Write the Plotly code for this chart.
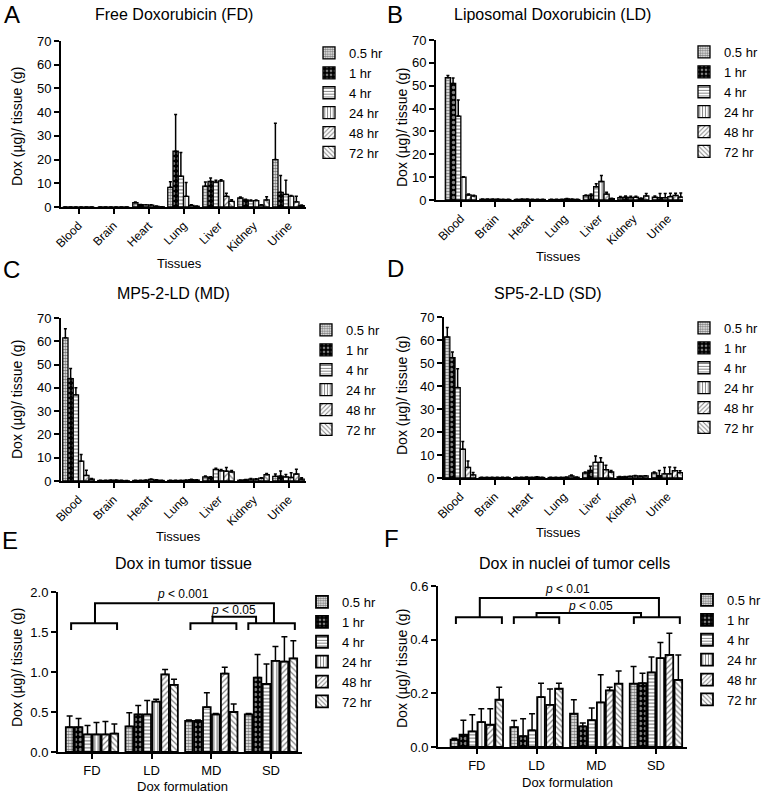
import plotly.graph_objects as go

W, H = 770, 796
FONT = "Liberation Sans, Arial, Helvetica, sans-serif"

tissues = ["Blood", "Brain", "Heart", "Lung", "Liver", "Kidney", "Urine"]
times = ["0.5 hr", "1 hr", "4 hr", "24 hr", "48 hr", "72 hr"]
formulations = ["FD", "LD", "MD", "SD"]

# ---- Panel A: Free Doxorubicin (rows = tissues, columns = time points)
fd_mean = [
    [0, 0, 0, 0, 0, 0],
    [0, 0, 0, 0, 0, 0],
    [1.8, 1.0, 0.9, 0.8, 0.3, 0.1],
    [8.3, 23.5, 13.0, 4.5, 0.7, 0.3],
    [8.8, 10.8, 10.5, 11.0, 4.5, 2.4],
    [3.8, 3.0, 2.6, 2.7, 0.8, 3.0],
    [20.0, 6.2, 5.3, 4.6, 2.2, 0.6],
]
fd_err = [
    [0, 0, 0, 0, 0, 0],
    [0, 0, 0, 0, 0, 0],
    [0.3, 0.1, 0.1, 0.1, 0.1, 0.05],
    [2.3, 15.5, 10.0, 5.8, 0.3, 0.1],
    [1.7, 1.4, 0.8, 0.5, 1.3, 0.7],
    [0.4, 0.3, 0.3, 0.3, 0.2, 1.3],
    [15.3, 7.1, 6.0, 0.3, 2.3, 0.2],
]
# ---- Panel B: Liposomal Doxorubicin
ld_mean = [
    [53.5, 51.0, 36.7, 10.0, 2.2, 1.8],
    [0.3, 0.3, 0.3, 0.3, 0.2, 0.2],
    [0.2, 0.3, 0.3, 0.2, 0.2, 0.2],
    [0.2, 0.2, 0.2, 0.5, 0.3, 0.2],
    [1.9, 2.1, 5.8, 8.1, 2.6, 0.6],
    [1.0, 1.2, 1.0, 1.2, 0.6, 1.8],
    [1.2, 1.0, 1.0, 1.5, 2.0, 1.3],
]
ld_err = [
    [1.0, 2.4, 7.0, 0.2, 0.4, 0.3],
    [0.1, 0.1, 0.1, 0.1, 0.1, 0.1],
    [0.1, 0.1, 0.1, 0.1, 0.1, 0.1],
    [0.1, 0.1, 0.1, 0.2, 0.1, 0.1],
    [0.3, 0.5, 1.3, 2.6, 0.8, 0.2],
    [0.5, 0.5, 0.6, 0.4, 0.3, 1.0],
    [0.5, 1.8, 1.8, 1.5, 0.9, 1.8],
]
# ---- Panel C: MP5-2-LD
md_mean = [
    [61.5, 44.0, 37.0, 8.5, 2.4, 0.8],
    [0.2, 0.2, 0.3, 0.3, 0.2, 0.1],
    [0.2, 0.2, 0.3, 0.7, 0.4, 0.2],
    [0.2, 0.2, 0.2, 0.3, 0.6, 0.4],
    [1.8, 1.5, 5.0, 4.4, 4.2, 3.9],
    [0.3, 0.5, 0.8, 0.8, 1.2, 2.7],
    [2.0, 2.1, 1.8, 1.5, 3.0, 0.8],
]
md_err = [
    [3.9, 4.3, 3.0, 2.9, 2.2, 0.3],
    [0.1, 0.1, 0.1, 0.1, 0.1, 0.1],
    [0.1, 0.1, 0.1, 0.2, 0.1, 0.1],
    [0.1, 0.1, 0.1, 0.1, 0.2, 0.1],
    [0.3, 0.3, 0.5, 0.5, 1.6, 0.6],
    [0.1, 0.1, 0.3, 0.2, 0.2, 0.5],
    [1.0, 2.2, 1.0, 2.0, 2.0, 0.6],
]
# ---- Panel D: SP5-2-LD
sd_mean = [
    [61.3, 52.3, 39.3, 12.5, 4.6, 1.4],
    [0.2, 0.2, 0.2, 0.2, 0.2, 0.2],
    [0.2, 0.2, 0.3, 0.2, 0.4, 0.2],
    [0.2, 0.2, 0.2, 0.3, 0.9, 0.3],
    [2.2, 3.3, 6.8, 6.8, 3.6, 2.6],
    [0.5, 0.5, 0.7, 0.9, 0.8, 0.9],
    [2.2, 1.0, 1.8, 1.8, 3.2, 2.3],
]
sd_err = [
    [4.1, 2.5, 8.2, 3.4, 2.8, 1.0],
    [0.1, 0.1, 0.1, 0.1, 0.1, 0.1],
    [0.1, 0.1, 0.1, 0.1, 0.1, 0.1],
    [0.1, 0.1, 0.1, 0.1, 0.4, 0.1],
    [0.4, 1.8, 2.8, 2.0, 1.9, 0.7],
    [0.1, 0.1, 0.1, 0.2, 0.1, 0.1],
    [0.4, 2.3, 2.8, 3.0, 1.4, 0.8],
]
# ---- Panel E: Dox in tumor tissue (rows = formulations)
tumor_mean = [
    [0.31, 0.31, 0.22, 0.22, 0.22, 0.23],
    [0.32, 0.47, 0.47, 0.63, 0.97, 0.84],
    [0.39, 0.39, 0.56, 0.47, 0.98, 0.50],
    [0.47, 0.93, 0.85, 1.14, 1.13, 1.17],
]
tumor_err = [
    [0.14, 0.11, 0.11, 0.15, 0.16, 0.12],
    [0.17, 0.11, 0.175, 0.03, 0.06, 0.07],
    [0.01, 0.01, 0.18, 0.01, 0.08, 0.10],
    [0.01, 0.29, 0.25, 0.18, 0.31, 0.22],
]
# ---- Panel F: Dox in nuclei of tumor cells
nuclei_mean = [
    [0.027, 0.046, 0.058, 0.093, 0.083, 0.176],
    [0.074, 0.040, 0.062, 0.186, 0.157, 0.217],
    [0.124, 0.077, 0.100, 0.166, 0.211, 0.236],
    [0.236, 0.238, 0.278, 0.331, 0.343, 0.250],
]
nuclei_err = [
    [0.006, 0.054, 0.062, 0.050, 0.060, 0.047],
    [0.025, 0.065, 0.062, 0.052, 0.059, 0.021],
    [0.052, 0.012, 0.045, 0.103, 0.012, 0.047],
    [0.064, 0.037, 0.057, 0.058, 0.081, 0.093],
]

# significance brackets: (x0, x1, y, y_end_of_legs), text (x, y, label)
tumor_brackets = [(0.05, 3.05, 1.86, 1.61), (-0.35, 0.42, 1.61, 1.525),
                  (1.65, 2.42, 1.61, 1.525), (2.62, 3.40, 1.61, 1.525),
                  (2.02, 2.75, 1.69, 1.61)]
tumor_ptext = [(1.52, 1.975, "<i>p</i> &lt; 0.001"), (2.38, 1.775, "<i>p</i> &lt; 0.05")]
nuclei_brackets = [(0.05, 3.05, 0.555, 0.484), (-0.35, 0.42, 0.484, 0.458),
                   (0.62, 1.38, 0.484, 0.458), (2.63, 3.40, 0.484, 0.458),
                   (1.00, 2.75, 0.499, 0.484)]
nuclei_ptext = [(1.52, 0.589, "<i>p</i> &lt; 0.01"), (1.90, 0.525, "<i>p</i> &lt; 0.05")]

# ---- styling
patterns = [
    dict(shape=".", size=3, solidity=0.65, fgcolor="black", bgcolor="white"),
    dict(shape=".", size=5, solidity=0.35, fgcolor="white", bgcolor="black"),
    dict(shape="-", size=3.5, solidity=0.35, fgcolor="black", bgcolor="white"),
    dict(shape="|", size=3.5, solidity=0.35, fgcolor="black", bgcolor="white"),
    dict(shape="/", size=4, solidity=0.3, fgcolor="black", bgcolor="white"),
    dict(shape="\\", size=4, solidity=0.3, fgcolor="black", bgcolor="white"),
]

def px(x):
    return x / W

def py(y):
    return 1 - y / H

panels = [
    dict(cats=tissues, mean=fd_mean, err=fd_err, xd=(61, 306), yd=(41, 207),
         xr=[-0.5, 6.5], yr=[0, 70], dt=10, fmt="d", leg=(309, 38), small=True),
    dict(cats=tissues, mean=ld_mean, err=ld_err, xd=(436, 683), yd=(40, 200),
         xr=[-0.72, 6.44], yr=[0, 70], dt=10, fmt="d", leg=(684, 37), small=True),
    dict(cats=tissues, mean=md_mean, err=md_err, xd=(61, 306), yd=(318, 481),
         xr=[-0.5, 6.5], yr=[0, 70], dt=10, fmt="d", leg=(306, 315), small=True),
    dict(cats=tissues, mean=sd_mean, err=sd_err, xd=(444, 683), yd=(317, 478),
         xr=[-0.47, 6.46], yr=[0, 70], dt=10, fmt="d", leg=(684, 313), small=True),
    dict(cats=formulations, mean=tumor_mean, err=tumor_err, xd=(58, 302), yd=(592, 752),
         xr=[-0.57, 3.52], yr=[0, 2.0], dt=0.5, fmt=".1f", leg=(302, 587), small=False),
    dict(cats=formulations, mean=nuclei_mean, err=nuclei_err, xd=(438, 687), yd=(586, 747),
         xr=[-0.65, 3.52], yr=[0, 0.6], dt=0.2, fmt=".1f", leg=(687, 585), small=False),
]

fig = go.Figure()
layout = dict(
    width=W, height=H, margin=dict(l=0, r=0, t=0, b=0, pad=0, autoexpand=False),
    paper_bgcolor="white", plot_bgcolor="white",
    font=dict(family=FONT, color="black", size=13),
    showlegend=True, barmode="overlay",
)
annotations = []
shapes = []

for p_i, p in enumerate(panels):
    n = p_i + 1
    xa = "x" if n == 1 else f"x{n}"
    ya = "y" if n == 1 else f"y{n}"
    leg = "legend" if n == 1 else f"legend{n}"
    ncat = len(p["cats"])
    if p["small"]:
        w, pitch, start = 0.15, 0.15, -0.45
    else:
        w, pitch, start = 0.128, 0.15, -0.439
    for t_i, t in enumerate(times):
        vals = [p["mean"][c][t_i] for c in range(ncat)]
        errs = [p["err"][c][t_i] for c in range(ncat)]
        fig.add_trace(go.Bar(
            x=p["cats"], y=vals, name=t, xaxis=xa, yaxis=ya, legend=leg,
            width=w, offset=start + t_i * pitch,
            marker=dict(color="white", pattern=patterns[t_i],
                        line=dict(color="black", width=1.3 if p["small"] else 1.8)),
            error_y=dict(type="data", symmetric=False, array=errs,
                         arrayminus=[0] * ncat, color="black",
                         thickness=1.5, width=1.5 if p["small"] else 3),
            showlegend=True,
        ))
    xkey = "xaxis" if n == 1 else f"xaxis{n}"
    ykey = "yaxis" if n == 1 else f"yaxis{n}"
    layout[xkey] = dict(
        domain=[px(p["xd"][0]), px(p["xd"][1])], anchor=ya, type="category",
        categoryorder="array", categoryarray=p["cats"], range=p["xr"],
        showline=True, linecolor="black", linewidth=2, ticks="outside",
        ticklen=5, tickwidth=2, tickcolor="black", showgrid=False, zeroline=False,
        tickangle=-45 if p["small"] else 0,
        tickfont=dict(size=12 if p["small"] else 13, family=FONT),
        fixedrange=True, automargin=False,
    )
    layout[ykey] = dict(
        domain=[py(p["yd"][1]), py(p["yd"][0])], anchor=xa, range=p["yr"],
        dtick=p["dt"], tick0=0, tickformat=p["fmt"],
        showline=True, linecolor="black", linewidth=2, ticks="outside",
        ticklen=5, tickwidth=2, tickcolor="black", showgrid=False, zeroline=False,
        tickfont=dict(size=13, family=FONT), fixedrange=True, automargin=False,
    )
    layout[leg] = dict(
        x=px(p["leg"][0]), y=py(p["leg"][1]), xanchor="left", yanchor="top",
        bgcolor="rgba(0,0,0,0)", font=dict(size=13, family=FONT),
        tracegroupgap=0, itemclick=False, itemdoubleclick=False,
    )

# panel letters, titles, axis titles (pixel positions)
letters = [("A", 12, 15), ("B", 395, 14), ("C", 11, 269), ("D", 395, 268), ("E", 10, 540), ("F", 391, 538)]
titles = [("Free Doxorubicin (FD)", 174, 15), ("Liposomal Doxorubicin (LD)", 552, 15),
          ("MP5-2-LD (MD)", 173, 293), ("SP5-2-LD (SD)", 548, 293),
          ("Dox in tumor tissue", 183, 563), ("Dox in nuclei of tumor cells", 574, 563)]
ytitles = [(17, 127), (402, 127), (17, 400), (402, 395), (17, 668), (402, 668)]
xtitles = [("Tissues", 179, 263), ("Tissues", 558, 256), ("Tissues", 178, 536),
           ("Tissues", 558, 532), ("Dox formulation", 182, 786), ("Dox formulation", 567, 782)]

def ann(text, x, y, size, **kw):
    d = dict(text=text, x=px(x), y=py(y), xref="paper", yref="paper",
             xanchor="center", yanchor="middle", showarrow=False,
             font=dict(size=size, family=FONT, color="black"))
    d.update(kw)
    return d

for s, x, y in letters:
    annotations.append(ann(s, x, y, 24))
for s, x, y in titles:
    annotations.append(ann(s, x, y, 16))
for x, y in ytitles:
    annotations.append(ann("Dox (\u00b5g)/ tissue (g)", x, y, 14, textangle=-90))
for s, x, y in xtitles:
    annotations.append(ann(s, x, y, 13))

for brackets, ptext, xa, ya in [(tumor_brackets, tumor_ptext, "x5", "y5"),
                                (nuclei_brackets, nuclei_ptext, "x6", "y6")]:
    for x0, x1, y, yl in brackets:
        shapes.append(dict(type="path", xref=xa, yref=ya,
                           path=f"M {x0},{yl} L {x0},{y} L {x1},{y} L {x1},{yl}",
                           line=dict(color="black", width=2)))
    for x, y, s in ptext:
        annotations.append(dict(text=s, x=x, y=y, xref=xa, yref=ya, showarrow=False,
                                xanchor="center", yanchor="middle",
                                font=dict(size=12, family=FONT, color="black")))

layout["annotations"] = annotations
layout["shapes"] = shapes
fig.update_layout(**layout)
fig.write_html("out.html", config={"displayModeBar": False},
               post_script="document.body.style.margin='0';document.body.style.overflow='hidden';")
